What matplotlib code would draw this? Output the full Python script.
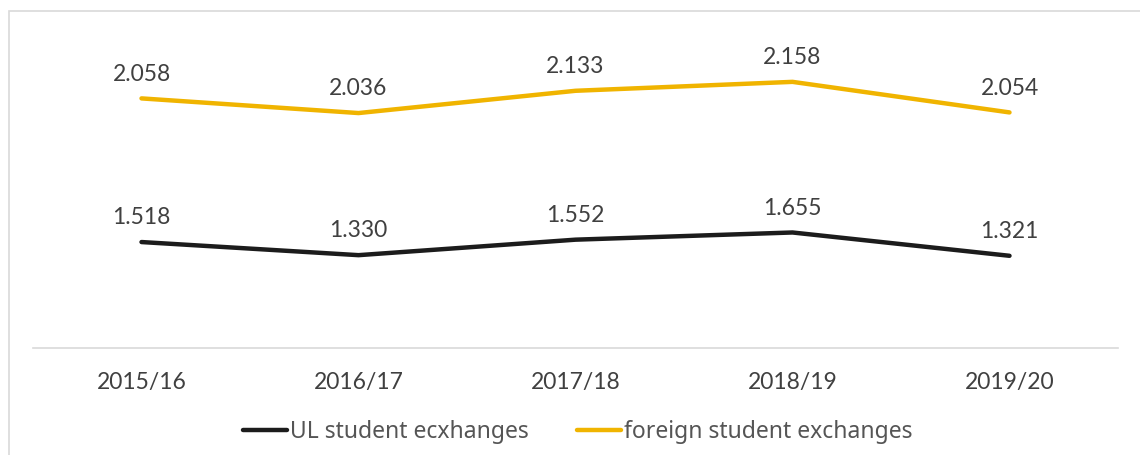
import matplotlib.pyplot as plt
from matplotlib.patches import Rectangle
import numpy as np

years = ['2015/16', '2016/17', '2017/18', '2018/19', '2019/20']
ul_exchanges = [1518, 1330, 1552, 1655, 1321]
foreign_exchanges = [2058, 2036, 2133, 2158, 2054]

BLACK = '#1c1c1c'
GOLD = '#f0b400'
TEXT = '#404040'

W, H = 1140, 455
fig = plt.figure(figsize=(W / 100, H / 100), dpi=100)

# axes placed so the baseline sits at y=348 px and x-range spans 33..1118 px
ymax = 4900
px_per_unit = 0.0698
ax = fig.add_axes([33 / W, 1 - 348 / H, (1118 - 33) / W, ymax * px_per_unit / H])

x = np.arange(len(years))
ul = np.array(ul_exchanges)
stacked = ul + np.array(foreign_exchanges)  # stacked line chart

l1, = ax.plot(x, ul, color=BLACK, lw=3.2, solid_capstyle='round',
              solid_joinstyle='round', label='UL student ecxhanges')
l2, = ax.plot(x, stacked, color=GOLD, lw=3.2, solid_capstyle='round',
              solid_joinstyle='round', label='foreign student exchanges')

def fmt(v):
    return f'{v:,}'.replace(',', '.')

for xi, v in zip(x, ul):
    ax.annotate(fmt(v), (xi, v), xytext=(0, 10), textcoords='offset points',
                ha='center', va='bottom', fontsize=16.5, color=TEXT, family='Lato')
for xi, v, f in zip(x, stacked, foreign_exchanges):
    ax.annotate(fmt(f), (xi, v), xytext=(0, 10), textcoords='offset points',
                ha='center', va='bottom', fontsize=16.5, color=TEXT, family='Lato')

ax.set_xlim(-0.5, len(years) - 0.5)
ax.set_ylim(0, ymax)
ax.set_xticks(x)
ax.set_xticklabels(years, fontsize=16.5, color=TEXT, family='Lato')
ax.tick_params(axis='x', length=0, pad=17)
ax.set_yticks([])
for s in ['top', 'right', 'left']:
    ax.spines[s].set_visible(False)
ax.spines['bottom'].set_color('#d9d9d9')
ax.spines['bottom'].set_linewidth(1.2)

fig.legend(handles=[l1, l2], loc='center', bbox_to_anchor=(578 / W, 1 - 432 / H),
           ncol=2, frameon=False, handlelength=1.9, handletextpad=0.15,
           columnspacing=2.1, prop={'family': 'Noto Sans', 'size': 16.5},
           labelcolor='#555555')

fig.patches.append(Rectangle((9 / W, -0.1), 1.2, (H - 11) / H + 0.1,
                             transform=fig.transFigure, fill=False,
                             edgecolor='#d9d9d9', lw=1.2))

fig.savefig('out.png', dpi=100)
